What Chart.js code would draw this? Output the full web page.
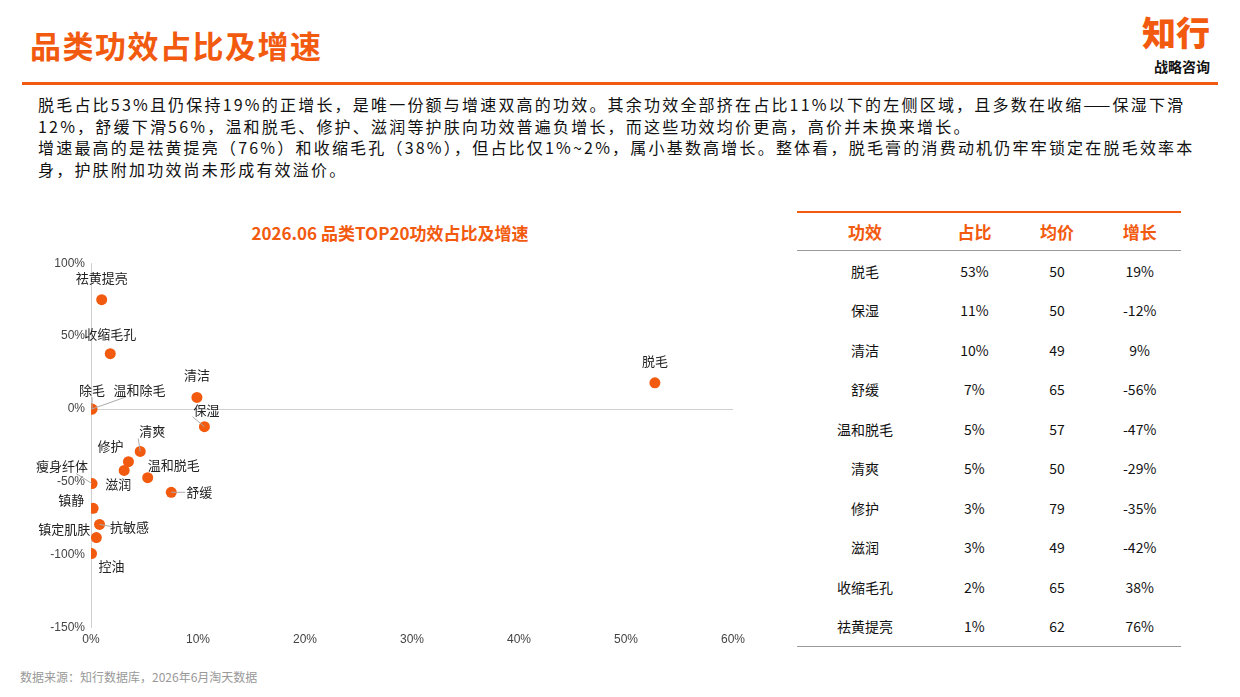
<!DOCTYPE html>
<html><head><meta charset="utf-8">
<script src="https://cdn.jsdelivr.net/npm/chart.js@4/dist/chart.umd.min.js"></script>
<style>
body{margin:0;width:1240px;height:697px;background:#fff;font-family:"Noto Sans CJK SC","Noto Sans",sans-serif;position:relative;overflow:hidden;color:#111}
.title{position:absolute;left:30px;top:22px;font-size:31px;font-weight:bold;color:#f25a0f;letter-spacing:1.5px}
.rule{position:absolute;left:22px;right:22px;top:82px;height:3px;background:#f25a0f}
.logo1{position:absolute;right:30px;top:12px;font-size:34px;font-weight:900;color:#f25a0f;line-height:40px}
.logo2{position:absolute;right:30px;top:56px;font-size:14px;font-weight:bold;color:#111}
.text{position:absolute;left:38px;top:94px;width:1200px;font-size:16px;line-height:21.5px;letter-spacing:2.2px;white-space:nowrap}
.ctitle{position:absolute;left:180px;top:220px;width:420px;text-align:center;font-size:17px;font-weight:bold;color:#f25a0f}
#wrap{position:absolute;left:30px;top:250px;width:720px;height:400px}
table{position:absolute;left:797px;top:211px;width:384px;border-collapse:collapse;font-size:14px;text-align:center}
th,td{padding:0}
th{color:#f25a0f;font-size:17px;height:37px;border-top:2px solid #f25a0f;border-bottom:1px solid #999}
td{height:39.5px}
tr:last-child td{border-bottom:1px solid #999}
.foot{position:absolute;left:20px;top:668px;font-size:12px;color:#999}
</style></head><body>
<div class="title">品类功效占比及增速</div>
<div class="logo1">知行</div><div class="logo2">战略咨询</div>
<div class="rule"></div>
<div class="text">脱毛占比53%且仍保持19%的正增长，是唯一份额与增速双高的功效。其余功效全部挤在占比11%以下的左侧区域，且多数在收缩——保湿下滑<br>12%，舒缓下滑56%，温和脱毛、修护、滋润等护肤向功效普遍负增长，而这些功效均价更高，高价并未换来增长。<br>增速最高的是祛黄提亮（76%）和收缩毛孔（38%），但占比仅1%~2%，属小基数高增长。整体看，脱毛膏的消费动机仍牢牢锁定在脱毛效率本<br>身，护肤附加功效尚未形成有效溢价。</div>
<div class="ctitle">2026.06 品类TOP20功效占比及增速</div>
<div id="wrap"><canvas id="c"></canvas></div>
<table id="tb"></table>
<div class="foot">数据来源：知行数据库，2026年6月淘天数据</div>
<script>
const names = ["祛黄提亮","收缩毛孔","脱毛","清洁","保湿","除毛","温和除毛","清爽","修护","滋润","温和脱毛","舒缓","瘦身纤体","镇静","抗敏感","镇定肌肤","控油"];
const share = [1.0,1.8,52.7,9.9,10.6,0.1,0.05,4.6,3.5,3.1,5.3,7.5,0.1,0.2,0.8,0.5,0.05];
const growth = [75,38,18,8,-12,0,0,-29,-36,-42,-47,-57,-51,-68,-79,-88,-99];
// label offsets in px (dx, dy) and whether to draw a leader line
const labelPos = [[0,-22,0],[0,-20,0],[0,-22,0],[0,-22,0],[2,-17,1],[0,-19,1],[48,-19,1],[12,-20,1],[-18,-16,0],[-6,14,0],[26,-13,0],[28,0,1],[-30,-17,1],[-22,-8,0],[30,3,1],[-32,-8,0],[20,12,0]];
const tHead = ["功效","占比","均价","增长"];
const tName = ["脱毛","保湿","清洁","舒缓","温和脱毛","清爽","修护","滋润","收缩毛孔","祛黄提亮"];
const tShare = ["53%","11%","10%","7%","5%","5%","3%","3%","2%","1%"];
const tPrice = [50,50,49,65,57,50,79,49,65,62];
const tGrowth = ["19%","-12%","9%","-56%","-47%","-29%","-35%","-42%","38%","76%"];

let h = "<tr>" + tHead.map(x => "<th>" + x + "</th>").join("") + "</tr>";
tName.forEach((n, i) => { h += `<tr><td>${n}</td><td>${tShare[i]}</td><td>${tPrice[i]}</td><td>${tGrowth[i]}</td></tr>`; });
document.getElementById("tb").innerHTML = h;

const labelPlugin = {
  id: "labels",
  afterDatasetsDraw(chart) {
    const ctx = chart.ctx;
    const meta = chart.getDatasetMeta(0);
    ctx.save();
    ctx.font = "13px 'Noto Sans CJK SC'";
    ctx.fillStyle = "#222";
    ctx.textAlign = "center";
    ctx.textBaseline = "middle";
    meta.data.forEach((p, i) => {
      const [dx, dy, line] = labelPos[i];
      const lx = p.x + dx, ly = p.y + dy;
      if (line) {
        ctx.strokeStyle = "#aaa"; ctx.lineWidth = 1;
        ctx.beginPath(); ctx.moveTo(p.x, p.y); ctx.lineTo(lx - Math.sign(dx) * 14, ly + (dy < 0 ? 7 : 0)); ctx.stroke();
      }
      ctx.fillText(names[i], lx, ly);
    });
    ctx.restore();
  }
};

new Chart(document.getElementById("c"), {
  type: "scatter",
  data: { datasets: [{ data: share.map((x, i) => ({ x, y: growth[i] })), backgroundColor: "#f25a0f", borderWidth: 0, pointRadius: 5.5 }] },
  options: {
    responsive: true, maintainAspectRatio: false, animation: false,
    layout: { padding: { top: 13, right: 17, bottom: 0, left: 0 } },
    plugins: { legend: { display: false }, tooltip: { enabled: false } },
    scales: {
      x: {
        min: 0, max: 60,
        ticks: { stepSize: 10, callback: v => v + "%", color: "#444", font: { size: 12 }, padding: 4 },
        grid: { color: c => c.tick && c.tick.value === 0 ? "#d0d0d0" : "transparent", drawTicks: false },
        border: { display: false },
        afterFit: s => { s.height = 22; }
      },
      y: {
        min: -150, max: 100,
        ticks: { stepSize: 50, callback: v => v + "%", color: "#444", font: { size: 12 }, padding: 6 },
        grid: { color: c => c.tick && c.tick.value === 0 ? "#d0d0d0" : "transparent", drawTicks: false },
        border: { display: false },
        afterFit: s => { s.width = 61; }
      }
    }
  },
  plugins: [labelPlugin]
});
</script>
</body></html>
